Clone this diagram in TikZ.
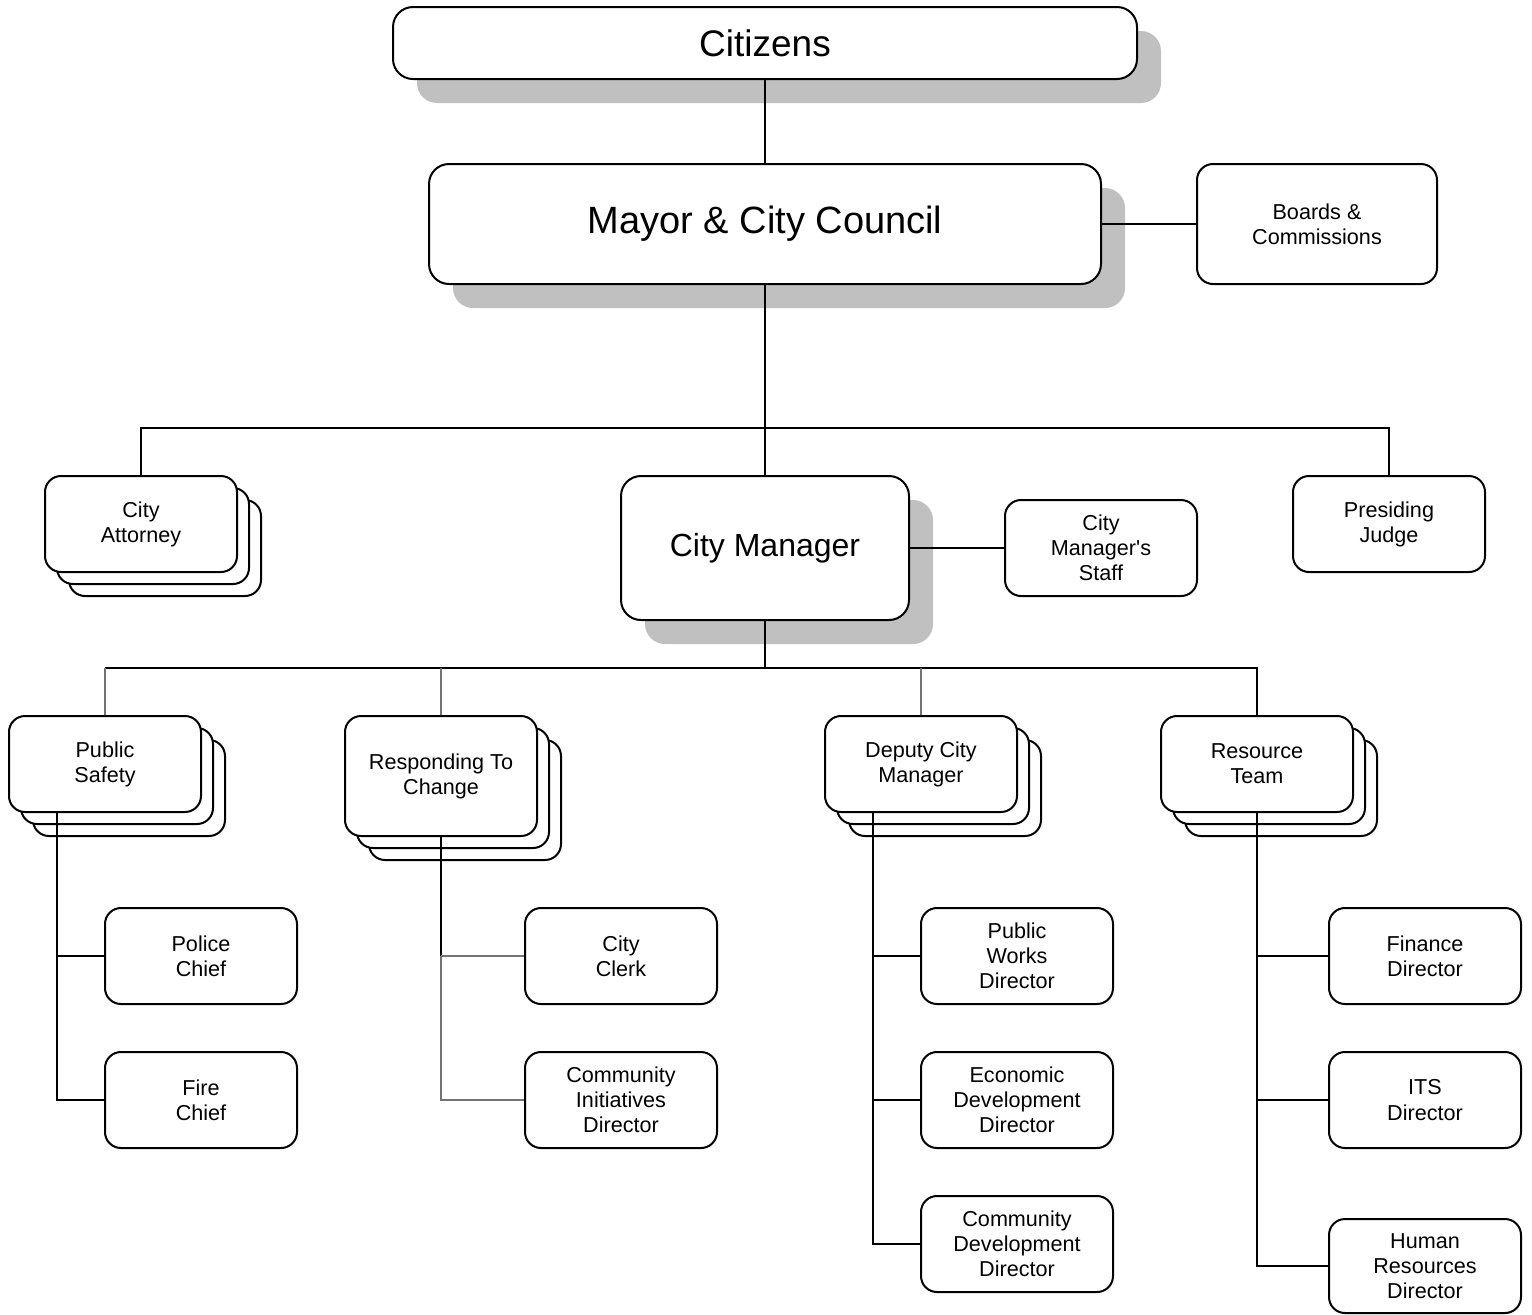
\documentclass[tikz,border=0pt]{standalone}
\usepackage{fontspec}
\setmainfont{Liberation Sans}
\usetikzlibrary{shadows}

\definecolor{shadegray}{HTML}{C0C0C0}

\tikzset{
  unit/.style={draw=black, fill=white, line width=1pt, rounded corners=8pt,
    inner sep=0pt, align=center, font=\fontsize{10.8}{12.6}\selectfont,
    minimum width=96pt, minimum height=48pt},
  stacked/.style={unit, double copy shadow={shadow xshift=6pt, shadow yshift=-6pt,
    draw=black, fill=white, line width=1pt}},
  headbox/.style={unit, rounded corners=10pt,
    drop shadow={shadow xshift=12pt, shadow yshift=-12pt, opacity=1, fill=shadegray}},
  link/.style={line width=1pt},
  thin link/.style={line width=1pt, draw=black!55}
}

\begin{document}
\begin{tikzpicture}[x=0.5pt, y=-0.5pt]
    \useasboundingbox (0,0) rectangle (1532,1314);

    % top of the chart
    \node[headbox, minimum width=372pt, minimum height=36pt, font=\fontsize{18.5}{22}\selectfont] (citizens) at (765,43) {Citizens};
    \node[headbox, minimum width=336pt, minimum height=60pt, font=\fontsize{19}{23}\selectfont] (mayor) at (765,224) {Mayor \& City Council};
    \node[unit, minimum width=120pt, minimum height=60pt] (boards) at (1317,224) {Boards \&\\Commissions};

    % second level
    \node[stacked] (attorney) at (141,524) {City\\Attorney};
    \node[headbox, minimum width=144pt, minimum height=72pt, font=\fontsize{16}{19}\selectfont] (manager) at (765,548) {City Manager};
    \node[unit] (staff) at (1101,548) {City\\Manager\textquotesingle s\\Staff};
    \node[unit] (judge) at (1389,524) {Presiding\\Judge};

    % groups under the manager
    \node[stacked] (safety) at (105,764) {Public\\Safety};
    \node[stacked, minimum height=60pt] (change) at (441,776) {Responding To\\Change};
    \node[stacked] (deputy) at (921,764) {Deputy City\\Manager};
    \node[stacked] (resource) at (1257,764) {Resource\\Team};

    % directors
    \node[unit] (police) at (201,956) {Police\\Chief};
    \node[unit] (fire) at (201,1100) {Fire\\Chief};
    \node[unit] (clerk) at (621,956) {City\\Clerk};
    \node[unit] (initiatives) at (621,1100) {Community\\Initiatives\\Director};
    \node[unit] (works) at (1017,956) {Public\\Works\\Director};
    \node[unit] (economic) at (1017,1100) {Economic\\Development\\Director};
    \node[unit] (commdev) at (1017,1244) {Community\\Development\\Director};
    \node[unit] (finance) at (1425,956) {Finance\\Director};
    \node[unit] (its) at (1425,1100) {ITS\\Director};
    \node[unit, minimum height=47pt] (hr) at (1425,1266) {Human\\Resources\\Director};

    % connectors
    \coordinate (topbus) at (765,428);
    \coordinate (cmbus) at (765,668);
    \coordinate (safetytrunk) at (57,812);
    \coordinate (deputytrunk) at (873,812);

    \draw[link] (citizens) -- (mayor);
    \draw[link] (mayor) -- (boards);
    \draw[link] (mayor) -- (manager);
    \draw[link] (attorney.north) |- (topbus) -| (judge.north);
    \draw[link] (manager) -- (staff);
    \draw[link] (manager) -- (cmbus);

    \draw[link] (safety.north |- cmbus) -- (resource.north |- cmbus) -- (resource.north);
    \draw[thin link] (safety.north) -- (safety.north |- cmbus);
    \draw[thin link] (change.north) -- (change.north |- cmbus);
    \draw[thin link] (deputy.north) -- (deputy.north |- cmbus);

    \draw[link] (safetytrunk) |- (fire.west);
    \draw[link] (safetytrunk |- police.west) -- (police.west);

    \draw[link] (change.south) -- (change.south |- clerk.west);
    \draw[thin link] (change.south |- clerk.west) |- (initiatives.west);
    \draw[thin link] (change.south |- clerk.west) -- (clerk.west);

    \draw[link] (deputytrunk) |- (commdev.west);
    \draw[link] (deputytrunk |- works.west) -- (works.west);
    \draw[link] (deputytrunk |- economic.west) -- (economic.west);

    \draw[link] (resource.south) |- (hr.west);
    \draw[link] (resource.south |- finance.west) -- (finance.west);
    \draw[link] (resource.south |- its.west) -- (its.west);
\end{tikzpicture}
\end{document}
